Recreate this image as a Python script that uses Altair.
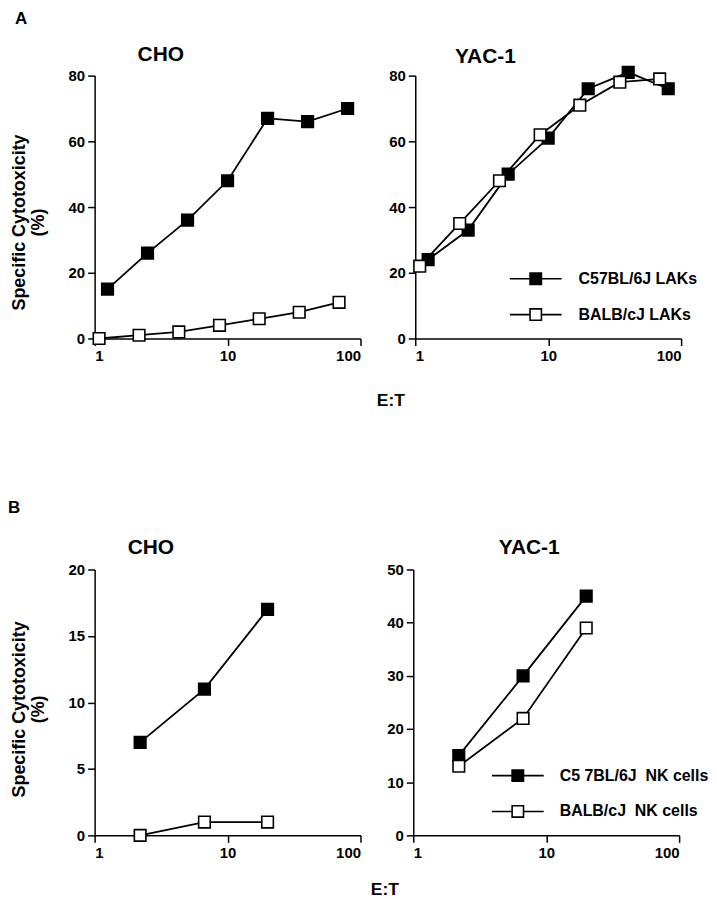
import altair as alt
import pandas as pd

FONT = "Liberation Sans"

# ---------------- Panel A : LAKs ----------------
a_et_c57 = [1.25, 2.5, 5, 10, 20, 40, 80]
a_et_balb = [1.08, 2.16, 4.3, 8.7, 17.3, 34.6, 69]
a_cho_c57 = [15, 26, 36, 48, 67, 66, 70]
a_cho_balb = [0, 1, 2, 4, 6, 8, 11]
a_yac_c57 = [24, 33, 50, 61, 76, 81, 76]
a_yac_balb = [22, 35, 48, 62, 71, 78, 79]
a_series = ["C57BL/6J LAKs", "BALB/cJ LAKs"]

# ---------------- Panel B : NK cells ----------------
b_et = [2.2, 6.7, 20]
b_cho_c57 = [7, 11, 17]
b_cho_balb = [0, 1, 1]
b_yac_c57 = [15, 30, 45]
b_yac_balb = [13, 22, 39]
b_series = ["C5 7BL/6J\u00a0\u00a0NK cells", "BALB/cJ\u00a0\u00a0NK cells"]

x_ticks = [1, 10, 100]
y_title = ["Specific Cytotoxicity", "\u00a0" * 5 + "(%)"]
x_title = "E:T"

LEGEND_PATH = "M-1,0H-0.22M0.22,0H1M-0.22,-0.22H0.22V0.22H-0.22Z"


def make_df(et1, v1, et2, v2, series):
    rows = []
    for e, v in zip(et1, v1):
        rows.append({"et": e, "val": v, "series": series[0]})
    for e, v in zip(et2, v2):
        rows.append({"et": e, "val": v, "series": series[1]})
    return pd.DataFrame(rows)


def panel(df, series, ymax, ystep, width, height, title, title_dx, title_offset,
          ytitle=None, ytitle_y=0, xtitle=None, xtitle_x=0, xtitle_y=0,
          legend_xy=None, label_offset=16):
    x_axis_kw = dict(values=x_ticks, format="d")
    if xtitle:
        x_axis_kw.update(title=xtitle, titleX=xtitle_x, titleY=xtitle_y,
                         titleAlign="center", titleBaseline="middle",
                         titleFontSize=17.5, titleAnchor="start")
    else:
        x_axis_kw.update(title=None)
    y_axis_kw = dict(values=list(range(0, ymax + 1, ystep)))
    if ytitle:
        y_axis_kw.update(title=ytitle, titleAngle=270, titleX=-70, titleY=ytitle_y,
                         titleAlign="center", titleBaseline="alphabetic",
                         titleFontSize=18, titleLineHeight=19, titleAnchor="start")
    else:
        y_axis_kw.update(title=None)

    x = alt.X("et:Q", scale=alt.Scale(type="log", domain=[1, 100]),
              axis=alt.Axis(**x_axis_kw))
    y = alt.Y("val:Q", scale=alt.Scale(domain=[0, ymax], nice=False),
              axis=alt.Axis(**y_axis_kw))

    if legend_xy is not None:
        legend = alt.Legend(title=None, orient="none",
                            legendX=legend_xy[0], legendY=legend_xy[1],
                            symbolType=LEGEND_PATH, symbolSize=2704,
                            symbolStrokeColor="black", symbolStrokeWidth=1.6,
                            symbolOpacity=1,
                            labelFont=FONT, labelFontSize=16, labelFontWeight="bold",
                            labelColor="black", labelOffset=label_offset, rowPadding=0,
                            labelLimit=300)
    else:
        legend = None

    lines = alt.Chart(df).mark_line(color="black", strokeWidth=1.8).encode(
        x=x, y=y, detail="series:N"
    )
    pts = alt.Chart(df).mark_point(shape="square", filled=True, size=135,
                                   stroke="black", strokeWidth=1.6, opacity=1).encode(
        x=x, y=y,
        fill=alt.Fill("series:N", scale=alt.Scale(domain=series, range=["black", "white"]),
                      legend=legend),
    )
    return alt.layer(lines, pts).properties(
        width=width, height=height,
        title=alt.TitleParams(text=title, anchor="middle", frame="group", dx=title_dx,
                              offset=title_offset, fontSize=21, fontWeight="bold",
                              font=FONT, color="black"),
    )


dfa_cho = make_df(a_et_c57, a_cho_c57, a_et_balb, a_cho_balb, a_series)
dfa_yac = make_df(a_et_c57, a_yac_c57, a_et_balb, a_yac_balb, a_series)
dfb_cho = make_df(b_et, b_cho_c57, b_et, b_cho_balb, b_series)
dfb_yac = make_df(b_et, b_yac_c57, b_et, b_yac_balb, b_series)

a_cho = panel(dfa_cho, a_series, 80, 20, 267, 264, "CHO", -67, 4,
              ytitle=y_title, ytitle_y=147, xtitle=x_title, xtitle_x=297, xtitle_y=62)
a_yac = panel(dfa_yac, a_series, 80, 20, 267, 264, "YAC-1", -63, -4,
              legend_xy=(94, 177), label_offset=16)
b_cho = panel(dfb_cho, b_series, 20, 5, 267, 267, "CHO", -77, 5,
              ytitle=y_title, ytitle_y=140, xtitle=x_title, xtitle_x=291, xtitle_y=54)
b_yac = panel(dfb_yac, b_series, 50, 10, 267, 267, "YAC-1", -17, 5,
              legend_xy=(78, 180), label_offset=15)

row_a = alt.hconcat(a_cho, a_yac, spacing=55, bounds="flush",
                    title=alt.TitleParams(text="A", anchor="start", frame="group",
                                          dx=-80, offset=16, fontSize=17,
                                          fontWeight="bold", font=FONT, color="black")
                    ).resolve_scale(fill="independent").resolve_legend(fill="independent")
row_b = alt.hconcat(b_cho, b_yac, spacing=53, bounds="flush",
                    title=alt.TitleParams(text="B", anchor="start", frame="group",
                                          dx=-87, offset=20, fontSize=17,
                                          fontWeight="bold", font=FONT, color="black")
                    ).resolve_scale(fill="independent").resolve_legend(fill="independent")

chart = alt.vconcat(row_a, row_b, spacing=496, bounds="flush").resolve_scale(
    fill="independent").resolve_legend(fill="independent").properties(
    padding=0
).configure_view(stroke=None).configure_axis(
    grid=False, domainColor="black", domainWidth=1.5, tickColor="black", tickWidth=1.5,
    tickSize=7, labelFont=FONT, labelFontSize=15, labelFontWeight="bold",
    labelColor="black", labelPadding=3, titleFont=FONT, titleFontWeight="bold",
    titleColor="black"
)

chart.save("out.html", embed_options={"renderer": "svg", "actions": False})
